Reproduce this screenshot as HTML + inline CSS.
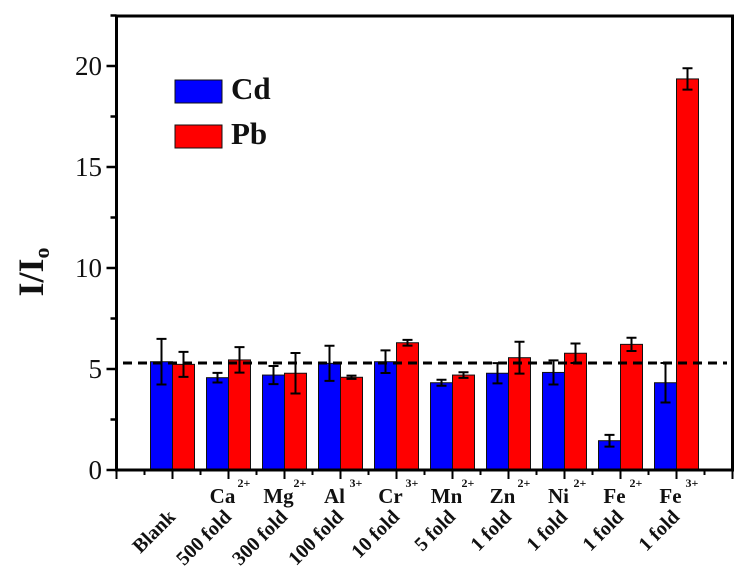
<!DOCTYPE html>
<html><head><meta charset="utf-8"><style>
html,body{margin:0;padding:0;background:#fff;}
svg{display:block;font-family:"Liberation Serif",serif;}
</style></head><body>
<svg id="chart" width="746" height="568" xmlns="http://www.w3.org/2000/svg"></svg>
<script>
const categories = ["Blank","Ca","Mg","Al","Cr","Mn","Zn","Ni","Fe","Fe"];
const ionCharges = ["","2+","2+","3+","3+","2+","2+","2+","2+","3+"];
const foldLabels = ["Blank","500 fold","300 fold","100 fold","10 fold","5 fold","1 fold","1 fold","1 fold","1 fold"];
const cdValues = [5.36,4.57,4.7,5.28,5.36,4.32,4.79,4.83,1.45,4.32];
const cdErrors = [1.13,0.24,0.45,0.87,0.56,0.15,0.5,0.6,0.29,0.98];
const pbValues = [5.23,5.45,4.79,4.59,6.3,4.7,5.56,5.78,6.22,19.36];
const pbErrors = [0.62,0.63,1.0,0.08,0.14,0.14,0.79,0.48,0.33,0.53];
const yTicks = [0,5,10,15,20];
const baselineValue = 5.3;

const svg = document.getElementById('chart');
const NS = 'http://www.w3.org/2000/svg';
const X0 = 116.5, STEP = 56, Y0 = 470, YS = 20.2, TOP = 16, RIGHT = 732.5, BW = 22;
const xC = i => X0 + STEP * (i + 1);
const yV = v => Y0 - v * YS;
function mk(tag, attrs, parent) {
  const e = document.createElementNS(NS, tag);
  for (const k in attrs) e.setAttribute(k, attrs[k]);
  (parent || svg).appendChild(e);
  return e;
}

const barsG = mk('g', {});


function drawBar(i, v, err, color, dx, series) {
  const x = xC(i) + dx;
  const r = mk('rect', {x: x, y: yV(v), width: BW, height: Y0 - yV(v), fill: color, stroke: '#111', 'stroke-width': 1}, barsG);
  
  
  const cx = x + BW / 2;
  const eb = mk('path', {d: `M${cx},${yV(v + err)}V${yV(v - err)}M${cx - 5},${yV(v + err)}H${cx + 5}M${cx - 5},${yV(v - err)}H${cx + 5}`, stroke: '#000', 'stroke-width': 2, fill: 'none'}, barsG);
  
  
}
for (let i = 0; i < categories.length; i++) {
  drawBar(i, cdValues[i], cdErrors[i], '#0000ff', -BW, 'cd');
  drawBar(i, pbValues[i], pbErrors[i], '#ff0000', 0, 'pb');
}

const dl = mk('line', {x1: 123, x2: 727, y1: yV(baselineValue), y2: yV(baselineValue), stroke: '#000', 'stroke-width': 3, 'stroke-dasharray': '9,6'});



const fr = mk('path', {d: `M${X0},${TOP}V${Y0}H${RIGHT}V${TOP}Z`, stroke: '#000', 'stroke-width': 3, fill: 'none'});



for (let v = 0; v <= 22.5; v += 2.5) {
  const major = v % 5 === 0;
  const t = mk('line', {x1: X0 - (major ? 10 : 6), x2: X0, y1: yV(v), y2: yV(v), stroke: '#000', 'stroke-width': 2.5});
  
  
}
yTicks.forEach(v => {
  const t = mk('text', {x: 102, y: yV(v) + 9, 'text-anchor': 'end', 'font-size': 27, fill: '#111'});
  t.textContent = v;
  
  
});

for (let k = 0; k <= 22; k++) {
  const x = X0 + STEP * k / 2;
  const major = k % 2 === 0;
  const t = mk('line', {x1: x, x2: x, y1: Y0, y2: Y0 + (major ? 9 : 5), stroke: '#000', 'stroke-width': 2});
  
  
}

for (let i = 0; i < categories.length; i++) {
  if (i > 0) {
    const t = mk('text', {x: xC(i) - 6, y: 503, 'text-anchor': 'middle', 'font-size': 21, 'font-weight': 'bold', fill: '#111'});
    t.textContent = categories[i];
    
    
    const s = mk('text', {x: xC(i) + 9, y: 487, 'font-size': 12, 'font-weight': 'bold', fill: '#111'});
    s.textContent = ionCharges[i];
    
    
  }
  const x = xC(i) + 4, y = 518;
  const f = mk('text', {x: x, y: y, 'text-anchor': 'end', 'font-size': 20, 'font-weight': 'bold', fill: '#111', transform: `rotate(-45 ${x} ${y})`});
  f.textContent = foldLabels[i];
  
  
}

const yt = mk('text', {x: 0, y: 0, 'text-anchor': 'middle', 'font-size': 36, 'font-weight': 'bold', fill: '#111', transform: 'translate(43 272) rotate(-90)'});


yt.textContent = 'I/I';
const sub = mk('tspan', {'font-size': 22, dy: 6}, yt);
sub.textContent = 'o';

const lg = mk('g', {});


[['Cd', '#0000ff', 80], ['Pb', '#ff0000', 125]].forEach(([n, c, y]) => {
  const e = mk('g', {}, lg);
  
  
  mk('rect', {x: 175, y: y, width: 47, height: 23, fill: c, stroke: '#111', 'stroke-width': 1}, e);
  const t = mk('text', {x: 231, y: y + 19, 'font-size': 31, 'font-weight': 'bold', fill: '#111'}, e);
  t.textContent = n;
});
</script>
</body></html>
